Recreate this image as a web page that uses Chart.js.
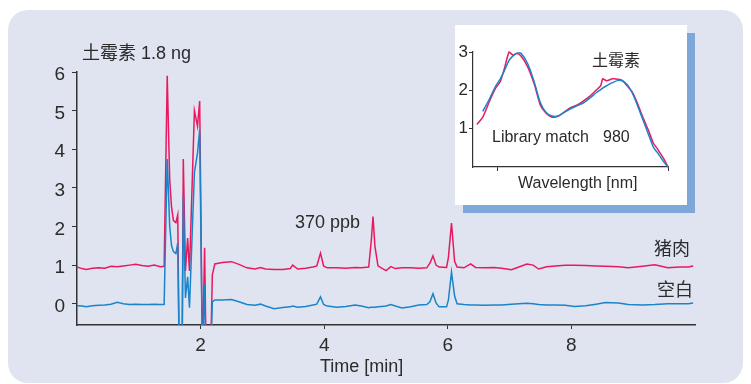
<!DOCTYPE html>
<html>
<head>
<meta charset="utf-8">
<script src="https://cdn.jsdelivr.net/npm/chart.js@4/dist/chart.umd.min.js"></script>
<style>
body { margin: 0; width: 751px; height: 384px; overflow: hidden; position: relative; background: #fff; }
#panel { position: absolute; left: 8px; top: 10px; width: 735px; height: 373px; background: #dfe4f0; border-radius: 20px; }
#main { position: absolute; left: 0; top: 0; }
#insetBox { position: absolute; left: 455px; top: 25px; width: 232px; height: 180px; background: #fff; box-shadow: 8px 8px 0 #7ea8d9; }
#inset { position: absolute; left: 0; top: 0; }
.lbl { position: absolute; font-family: "Liberation Sans", "Noto Sans CJK SC", sans-serif; font-size: 18px; line-height: 1; color: #2b2b2b; white-space: nowrap; }
.sm { font-size: 16px; }
</style>
</head>
<body>
<div id="panel"></div>
<canvas id="main" width="751" height="384"></canvas>
<div id="insetBox"><canvas id="inset" width="232" height="180"></canvas></div>

<div class="lbl" style="left:82px; top:44px;">土霉素 1.8 ng</div>
<div class="lbl" style="left:295px; top:213px;">370 ppb</div>
<div class="lbl" style="right:61px; top:240px;">猪肉</div>
<div class="lbl" style="right:58px; top:281px;">空白</div>
<div class="lbl" style="left:320px; top:357px;">Time [min]</div>
<div class="lbl sm" style="left:592px; top:53px;">土霉素</div>
<div class="lbl sm" style="left:492px; top:129px;">Library match</div>
<div class="lbl sm" style="left:603px; top:129px;">980</div>
<div class="lbl sm" style="left:518px; top:175px;">Wavelength [nm]</div>

<script>
// chromatogram: retention time [min]
const times = [
  0.00, 0.08, 0.15, 0.25, 0.35, 0.45, 0.55, 0.65, 0.75, 0.85, 0.95, 1.05, 1.15, 1.25, 1.35, 1.41,
  1.46, 1.50, 1.53, 1.56, 1.60, 1.63, 1.655, 1.70, 1.72, 1.755, 1.79, 1.82, 1.90, 1.95, 1.985,
  2.03, 2.065, 2.09, 2.16, 2.19, 2.23, 2.35, 2.50, 2.62, 2.75, 2.88, 2.97, 3.05, 3.19, 3.33,
  3.45, 3.49, 3.57, 3.70, 3.82, 3.88, 3.94, 3.99, 4.05, 4.20, 4.35, 4.50, 4.60, 4.72, 4.76,
  4.79, 4.82, 4.87, 4.93, 5.00, 5.08, 5.15, 5.26, 5.40, 5.53, 5.66, 5.71, 5.76, 5.81, 5.86,
  5.98, 6.01, 6.06, 6.11, 6.15, 6.26, 6.37, 6.45, 6.60, 6.75, 6.87, 7.03, 7.15, 7.28, 7.38,
  7.47, 7.60, 7.74, 7.90, 8.05, 8.23, 8.40, 8.55, 8.76, 8.92, 9.15, 9.35, 9.56, 9.75, 9.89, 9.97
];
// 猪肉 (pork sample)
const pork = [
  0.95, 0.91, 0.89, 0.92, 0.93, 0.92, 0.97, 0.96, 0.98, 1.00, 1.02, 0.99, 0.97, 1.00, 0.96, 0.97,
  5.90, 3.20, 2.50, 2.15, 2.10, 2.30, -1.5, -1.5, 3.75, 0.85, 1.70, 0.85, 5.00, 4.60, 5.25,
  -1.5, 1.45, -1.5, -1.5, 0.75, 1.03, 1.07, 1.09, 1.02, 0.93, 0.90, 0.94, 0.90, 0.89, 0.89,
  0.91, 1.00, 0.90, 0.92, 0.95, 0.98, 1.31, 0.98, 0.93, 0.93, 0.92, 0.94, 0.93, 0.95, 1.60,
  2.26, 1.50, 0.98, 0.92, 0.86, 0.96, 0.91, 0.93, 0.93, 0.92, 0.93, 1.05, 1.24, 1.00, 0.95,
  0.94, 1.20, 2.09, 1.10, 0.95, 0.93, 1.03, 0.94, 0.93, 0.94, 0.92, 0.88, 0.95, 1.03, 1.00,
  0.90, 0.96, 0.98, 1.00, 1.00, 0.99, 0.98, 0.97, 0.96, 0.93, 0.97, 1.01, 0.93, 0.95, 0.95, 0.98
];
// 空白 (blank)
const blank = [
  -0.05, -0.06, -0.08, -0.05, -0.04, -0.03, -0.01, 0.04, 0.00, -0.02, -0.01, -0.02, -0.02, -0.01, -0.02, -0.02,
  3.75, 2.00, 1.50, 1.35, 1.30, 1.57, -1.5, -1.5, 2.80, 0.15, 0.70, -0.10, 3.40, 3.90, 4.50,
  -1.5, 0.50, -1.5, -1.5, 0.05, 0.10, 0.10, 0.11, 0.05, -0.02, -0.04, -0.01, -0.06, -0.13, -0.10,
  -0.08, -0.06, -0.09, -0.07, -0.03, -0.01, 0.18, -0.02, -0.06, -0.09, -0.07, -0.03, -0.06, -0.10, -0.09,
  -0.09, -0.09, -0.08, -0.07, -0.06, -0.02, -0.06, -0.11, -0.08, -0.03, -0.02, 0.05, 0.26, 0.02, -0.08,
  -0.08, 0.10, 0.82, 0.20, 0.00, -0.02, -0.03, -0.03, -0.04, -0.03, -0.03, -0.01, 0.00, 0.01, 0.00,
  -0.02, -0.03, -0.03, -0.04, -0.07, -0.05, -0.01, 0.03, 0.02, -0.02, -0.03, -0.02, 0.00, 0.00, 0.00, 0.02
];
const timeTicks = [2, 4, 6, 8];
const signalTicks = [0, 1, 2, 3, 4, 5, 6];

// inset UV spectrum
const wavelengths = [
  204, 210, 217, 223, 228, 232, 237, 241, 245, 249, 256, 263, 269, 275, 281, 287, 293, 300, 307,
  313, 320, 327, 331, 333, 337, 343, 349, 353, 358, 363, 368, 374, 380, 385, 389, 392, 396, 400
];
const sampleSpec = [
  1.11, 1.30, 1.72, 2.05, 2.23, 2.55, 3.00, 2.92, 2.96, 2.90, 2.62, 2.15, 1.62, 1.40, 1.30, 1.32, 1.42, 1.55, 1.62,
  1.72, 1.85, 2.02, 2.12, 2.30, 2.25, 2.30, 2.29, 2.26, 2.12, 1.97, 1.70, 1.31, 0.95, 0.62, 0.48, 0.36, 0.20, 0.00
];
const libSpec = [
  null, 1.45, 1.78, 2.10, 2.30, 2.50, 2.78, 2.90, 2.97, 2.97, 2.70, 2.20, 1.68, 1.42, 1.33, 1.33, 1.42, 1.52, 1.60,
  1.67, 1.80, 1.95, 2.02, 2.06, 2.12, 2.20, 2.26, 2.25, 2.15, 1.95, 1.65, 1.25, 0.85, 0.52, 0.38, 0.27, 0.12, 0.00
];
const specYTicks = [1, 2, 3];
const specXTicks = [225, 400];

const pink = '#e8195f';
const blue = '#1b84c8';
const axisCol = '#333333';
const txt = '#2b2b2b';
const fam = '"Liberation Sans", "Noto Sans CJK SC", sans-serif';

function pts(xs, ys) {
  return xs.map((x, i) => ({ x: x, y: ys[i] }));
}

new Chart(document.getElementById('main'), {
  type: 'line',
  data: {
    datasets: [
      { label: '空白', data: pts(times, blank), borderColor: blue, borderWidth: 1.5, pointRadius: 0, tension: 0 },
      { label: '猪肉', data: pts(times, pork), borderColor: pink, borderWidth: 1.5, pointRadius: 0, tension: 0 }
    ]
  },
  options: {
    responsive: false,
    animation: false,
    layout: { padding: { top: 72, right: 56, left: 0, bottom: 0 } },
    plugins: { legend: { display: false }, tooltip: { enabled: false } },
    scales: {
      x: {
        type: 'linear', min: 0, max: 10,
        afterBuildTicks: s => { s.ticks = timeTicks.map(v => ({ value: v })); },
        afterFit: s => { s.height = 59; },
        grid: { drawOnChartArea: false, tickLength: 4, color: axisCol },
        border: { color: axisCol, width: 1.5 },
        ticks: { color: txt, font: { family: fam, size: 19 }, padding: 5, autoSkip: false, maxRotation: 0 }
      },
      y: {
        min: -0.55, max: 6,
        afterBuildTicks: s => { s.ticks = signalTicks.map(v => ({ value: v })); },
        afterFit: s => { s.width = 77; },
        grid: { drawOnChartArea: false, tickLength: 5, color: axisCol },
        border: { color: axisCol, width: 1.5 },
        ticks: { color: txt, font: { family: fam, size: 19 }, padding: 7, autoSkip: false, labelOffset: 3 }
      }
    }
  }
});

new Chart(document.getElementById('inset'), {
  type: 'line',
  data: {
    datasets: [
      { label: 'library', data: pts(wavelengths, libSpec), borderColor: blue, borderWidth: 1.5, pointRadius: 0, tension: 0.3, clip: false },
      { label: 'sample', data: pts(wavelengths, sampleSpec), borderColor: pink, borderWidth: 1.5, pointRadius: 0, tension: 0.2, clip: false }
    ]
  },
  options: {
    responsive: false,
    animation: false,
    layout: { padding: { top: 27, right: 19, left: 0, bottom: 0 } },
    plugins: { legend: { display: false }, tooltip: { enabled: false } },
    scales: {
      x: {
        type: 'linear', min: 200, max: 400,
        afterBuildTicks: s => { s.ticks = specXTicks.map(v => ({ value: v })); },
        afterFit: s => { s.height = 38; },
        grid: { drawOnChartArea: false, tickLength: 4, color: axisCol },
        border: { color: axisCol, width: 1.2 },
        ticks: { callback: () => '', autoSkip: false }
      },
      y: {
        min: 0, max: 3,
        afterBuildTicks: s => { s.ticks = specYTicks.map(v => ({ value: v })); },
        afterFit: s => { s.width = 18; },
        grid: { drawOnChartArea: false, tickLength: 4, color: axisCol },
        border: { color: axisCol, width: 1.2 },
        ticks: { color: txt, font: { family: fam, size: 17 }, padding: 1, autoSkip: false }
      }
    }
  }
});
</script>
</body>
</html>
